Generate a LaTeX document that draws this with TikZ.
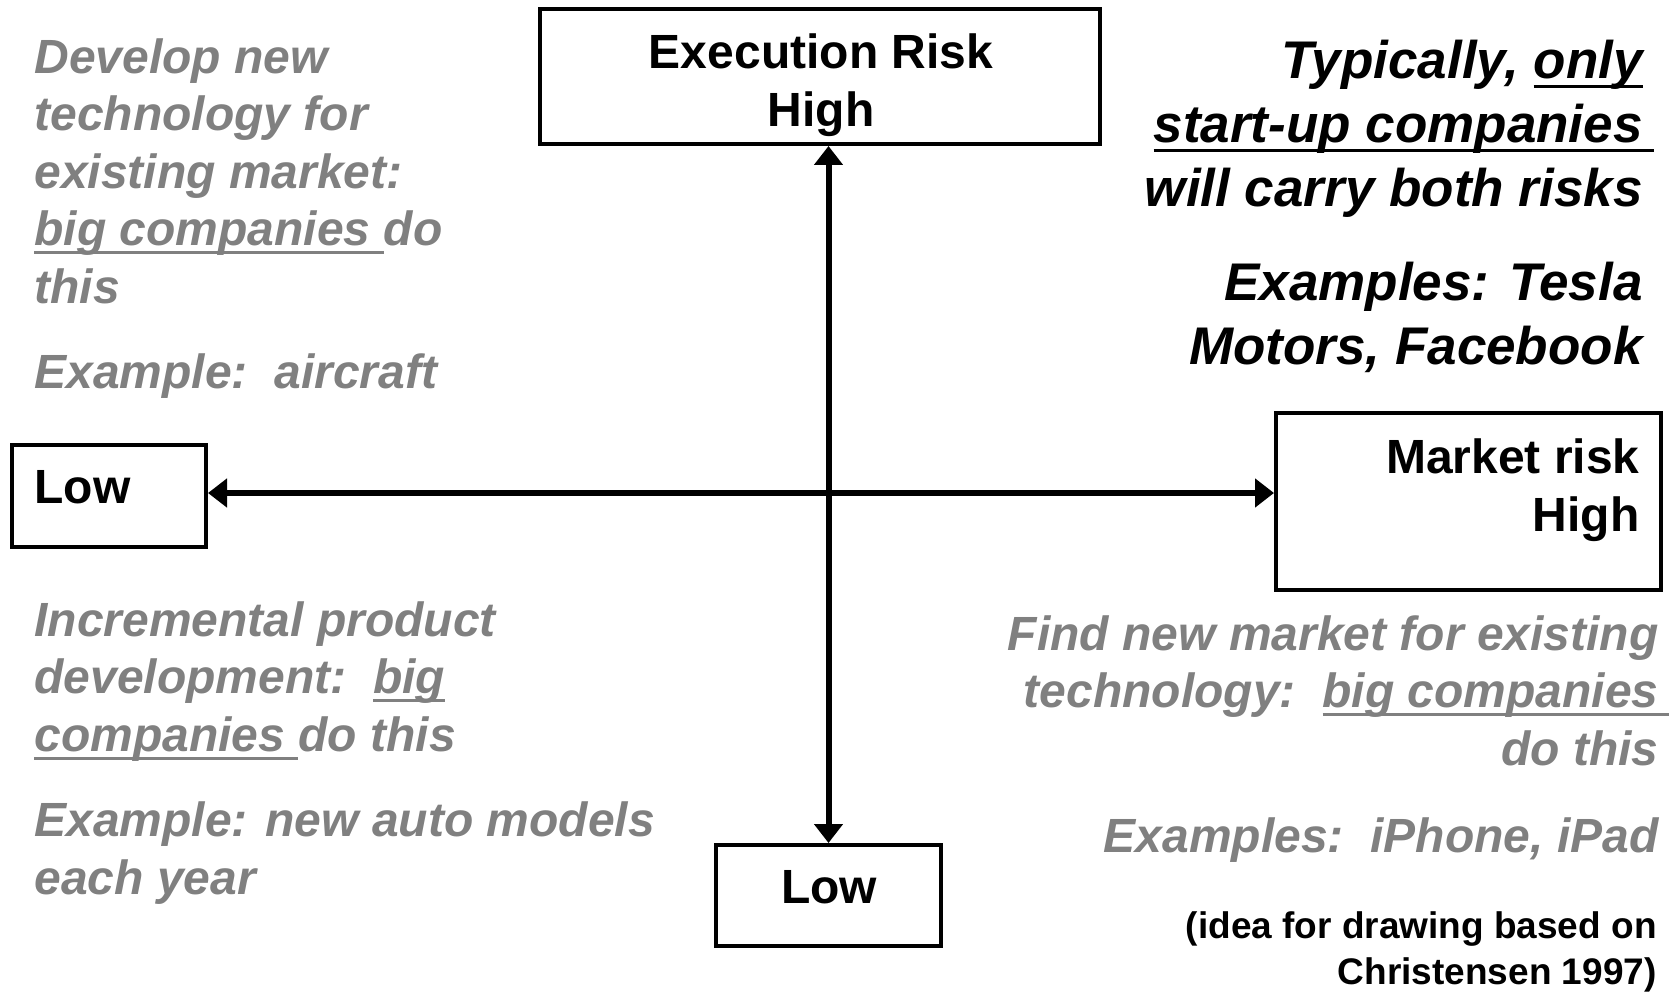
\documentclass[tikz,border=0pt]{standalone}
\usepackage{fontspec}
\setmainfont{Liberation Sans}
\usepackage{xcolor}
\usetikzlibrary{arrows.meta}
\usetikzlibrary{positioning}

\definecolor{notegray}{RGB}{128,128,128}
\newsavebox\ulbox
\newcommand{\uln}[1]{\sbox\ulbox{#1}\rlap{\rule[-0.18em]{\wd\ulbox}{0.06em}}\usebox\ulbox}
\newcommand{\ulx}[1]{\sbox\ulbox{#1}\rlap{\rule[-0.18em]{\dimexpr\wd\ulbox+0.22em\relax}{0.06em}}\usebox\ulbox}

\tikzset{
  riskbox/.style={draw,line width=2pt,inner sep=0pt},
  boxtext/.style={inner sep=0pt,font=\fontsize{24}{29}\selectfont\bfseries},
  quadnote/.style={inner sep=0pt,text=notegray,font=\fontsize{24}{28.75}\selectfont\bfseries\itshape},
  startnote/.style={inner sep=0pt,font=\fontsize{26.5}{32}\selectfont\bfseries\itshape},
  citenote/.style={inner sep=0pt,font=\fontsize{18.5}{23}\selectfont\bfseries},
  riskaxis/.style={line width=3pt,arrows={Triangle[width=14pt,length=9.5pt]-Triangle[width=14pt,length=9.5pt]}}
}

\begin{document}
\begin{tikzpicture}[x=0.5pt,y=-0.5pt]
  \useasboundingbox (0,0) rectangle (1673,994);

  \node (exh) [riskbox,minimum width=280pt,minimum height=67.5pt] at (820,76.5) {};
  \node (exht) [boxtext,align=center,anchor=north] at (821,33) {Execution Risk\\High};
  \node (exl) [riskbox,minimum width=112.5pt,minimum height=50.5pt] at (828.5,895.5) {};
  \node (exlt) [boxtext,anchor=base] at (829,903) {Low};
  \node (mkl) [riskbox,minimum width=97pt,minimum height=51pt] at (109,496) {};
  \node (mklt) [boxtext,anchor=base west] at (34,503) {Low};
  \node (mkh) [riskbox,minimum width=192.5pt,minimum height=88.5pt] at (1468.5,501.5) {};
  \node (mkht) [boxtext,align=right,anchor=north east] at (1640,438) {Market risk\\High};

  \draw[riskaxis] (exl.north |- exh.south) -- (exl.north);
  \draw[riskaxis] ([yshift=1.5pt]mkl.east) -- ([yshift=1.5pt]mkl.east -| mkh.west);

  \node (tl) [quadnote,align=left,anchor=north west] at (34,38)
    {Develop new\\technology for\\existing market:\\\uln{big companies\ }do\\this\\[14pt]Example:\ \ aircraft};
  \node (tr) [startnote,align=right,anchor=north east] at (1643,40)
    {Typically, \uln{only}\\\ulx{start-up companies}\\will carry both risks\\[15pt]Examples: Tesla\\Motors, Facebook};
  \node (bl) [quadnote,align=left,anchor=north west] at (34,601)
    {Incremental product\\development:\ \ \uln{big}\\\uln{companies\ }do this\\[14pt]Example: new auto models\\each year};
  \node (br) [quadnote,align=right,anchor=north east] at (1659,615)
    {Find new market for existing\\technology:\ \ \ulx{big companies}\\do this\\[15pt]Examples:\ \ iPhone, iPad};
  \node (cite) [citenote,align=right,anchor=north east] at (1657,911)
    {(idea for drawing based on\\Christensen 1997)};
\end{tikzpicture}
\end{document}
